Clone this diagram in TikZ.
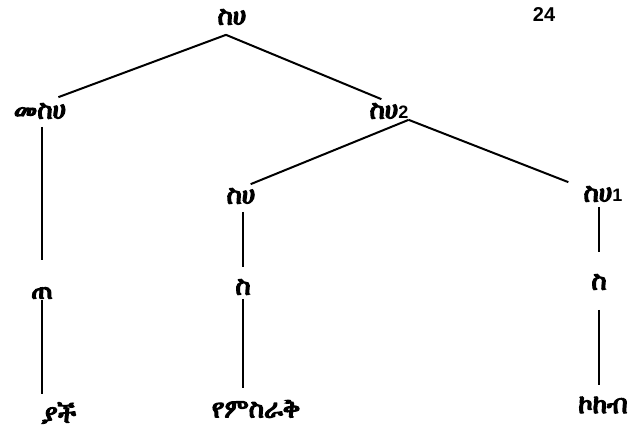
\documentclass[tikz,border=0pt]{standalone}
\usepackage{fontspec}
\IfFontExistsTF{FreeSerif}{\newfontfamily\ethfont{FreeSerif}[FakeBold=5]}{%
  \IfFontExistsTF{FreeSerif.otf}{\newfontfamily\ethfont{FreeSerif.otf}[FakeBold=5]}{%
    \newfontfamily\ethfont{DejaVu Sans}}}
\newfontfamily\numfont{Liberation Sans}
\newcommand{\idx}[1]{{\numfont\bfseries\fontsize{18}{18}\selectfont #1}}

\begin{document}
\begin{tikzpicture}[x=1pt,y=-1pt,
    branch/.style={line width=2pt},
    cat/.style={inner sep=0pt,font=\ethfont\fontsize{26}{26}\selectfont}]
    \useasboundingbox (0,0) rectangle (637,433);
    %节点
    \node[cat] (root) at (232,17) {ስሀ};
    \node[inner sep=0pt,font=\numfont\bfseries\fontsize{20}{20}\selectfont] (page) at (544,15) {24};
    \node[cat] (mod) at (40,111) {መስሀ};
    \node[cat] (np2) at (389,111) {ስሀ\idx{2}};
    \node[cat] (npA) at (241,196) {ስሀ};
    \node[cat] (np1) at (603,194) {ስሀ\idx{1}};
    \node[cat] (dem) at (42,293) {ጠ};
    \node[cat] (nA) at (243,287) {ስ};
    \node[cat] (nB) at (599,282) {ስ};
    \node[cat] (w1) at (59,413) {ያች};
    \node[cat] (w2) at (256,409) {የምስራቅ};
    \node[cat] (w3) at (603,405) {ኮከብ};
    %分支
    \draw [branch] ([xshift=-6pt,yshift=-10pt]root.south) -- ([xshift=-8pt,yshift=6pt]mod.north east);
    \draw [branch] ([xshift=-6pt,yshift=-10pt]root.south) -- ([xshift=12pt,yshift=4pt]np2.north west);
    \draw [branch] ([yshift=-1pt]np2.south east) -- ([xshift=-5pt,yshift=4pt]npA.north east);
    \draw [branch] ([yshift=-1pt]np2.south east) -- ([xshift=-15pt,yshift=4pt]np1.north west);
    %竖线
    \draw [branch,shorten <=8pt,shorten >=27pt] (mod.south -| dem.north) -- (dem.north);
    \draw [branch,shorten <=1pt,shorten >=8pt] (dem.south) -- (dem.south |- w1.north);
    \draw [branch,shorten <=8pt,shorten >=12pt] (npA.south -| nA.north) -- (nA.north);
    \draw [branch,shorten <=4pt,shorten >=12pt] (nA.south) -- (nA.south |- w2.north);
    \draw [branch,shorten <=5pt,shorten >=22pt] (np1.south -| nB.north) -- (nB.north);
    \draw [branch,shorten <=20pt,shorten >=12pt] (nB.south) -- (nB.south |- w3.north);
\end{tikzpicture}
\end{document}
